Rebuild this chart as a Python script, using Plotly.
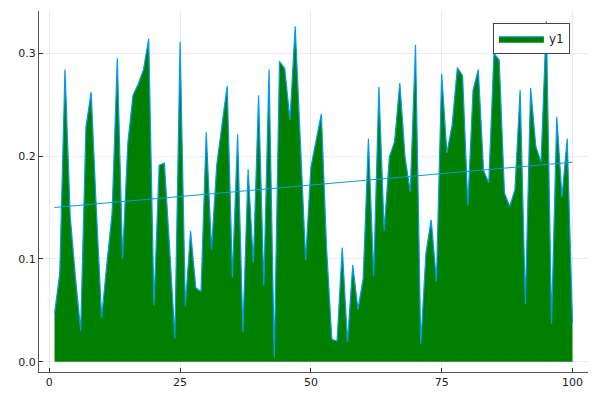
import numpy as np
import plotly.graph_objects as go

x_vals = list(range(1, 101))
y_vals = [
    0.047, 0.086, 0.284, 0.141, 0.082, 0.030, 0.228, 0.262, 0.147, 0.043,
    0.095, 0.144, 0.295, 0.100, 0.212, 0.259, 0.270, 0.284, 0.314, 0.055,
    0.191, 0.193, 0.110, 0.023, 0.311, 0.054, 0.127, 0.072, 0.068, 0.223,
    0.109, 0.191, 0.230, 0.268, 0.082, 0.221, 0.029, 0.187, 0.096, 0.259,
    0.074, 0.284, 0.004, 0.292, 0.285, 0.235, 0.326, 0.212, 0.099, 0.189,
    0.214, 0.241, 0.110, 0.022, 0.020, 0.111, 0.019, 0.094, 0.051, 0.081,
    0.217, 0.083, 0.267, 0.127, 0.199, 0.214, 0.271, 0.199, 0.165, 0.308,
    0.017, 0.106, 0.138, 0.078, 0.280, 0.203, 0.230, 0.286, 0.278, 0.152,
    0.264, 0.284, 0.186, 0.174, 0.300, 0.293, 0.164, 0.151, 0.167, 0.264,
    0.056, 0.266, 0.209, 0.194, 0.331, 0.037, 0.238, 0.160, 0.217, 0.038,
]
x_ticks = [0, 25, 50, 75, 100]
y_ticks = [0.0, 0.1, 0.2, 0.3]
y_tick_text = ["0.0", "0.1", "0.2", "0.3"]

coef = np.polyfit(x_vals, y_vals, 1)
fit_x = [x_vals[0], x_vals[-1]]
fit_y = list(np.polyval(coef, fit_x))

fig = go.Figure()
fig.add_trace(go.Scatter(
    x=x_vals, y=y_vals, mode="lines", fill="tozeroy",
    fillcolor="#008000", line=dict(color="#009AFA", width=1.2),
    name="y1",
))
fig.add_trace(go.Scatter(
    x=fit_x, y=fit_y, mode="lines", line=dict(color="#009AFA", width=1),
    showlegend=False,
))

ymax = max(y_vals)
pad_y = 0.03 * (ymax - 0)
pad_x = 0.03 * (x_vals[-1] - x_vals[0])

axis_common = dict(
    showgrid=True, gridcolor="rgba(0,0,0,0.08)", gridwidth=0.5,
    zeroline=False, showline=True, linecolor="#555", linewidth=1,
    ticks="inside", ticklen=4, tickcolor="#333",
    tickfont=dict(family="DejaVu Sans", size=11, color="#222"),
    mirror=False, automargin=False,
)

fig.update_layout(
    width=600, height=400,
    margin=dict(l=39, r=12, t=11, b=28),
    paper_bgcolor="white", plot_bgcolor="white",
    xaxis=dict(range=[x_vals[0] - pad_x, x_vals[-1] + pad_x],
               tickvals=x_ticks, **axis_common),
    yaxis=dict(range=[0 - pad_y, ymax + pad_y],
               tickvals=y_ticks, ticktext=y_tick_text, **axis_common),
    legend=dict(x=0.967, xanchor="right", y=0.966, yanchor="top",
                bordercolor="#444", borderwidth=1, bgcolor="white",
                font=dict(family="DejaVu Sans", size=12, color="#222"),
                itemwidth=45),
    showlegend=True,
)

fig.write_html(
    "out.html",
    config={"displayModeBar": False},
    post_script="document.body.style.margin='0';document.body.style.padding='0';",
)
